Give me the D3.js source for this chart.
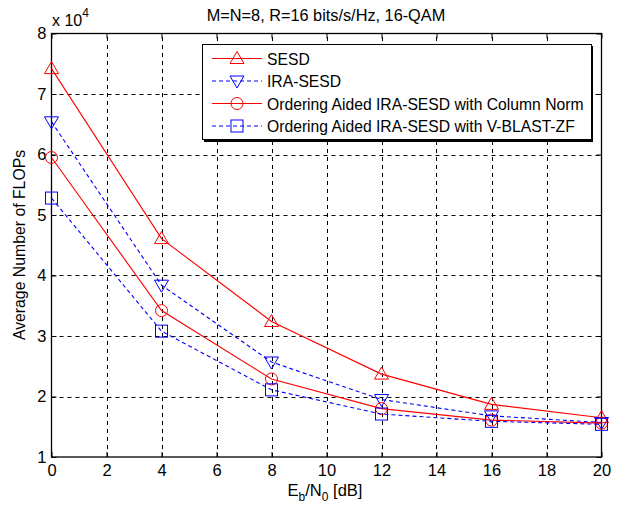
<!DOCTYPE html>
<html>
<head>
<meta charset="utf-8">
<script src="https://cdn.jsdelivr.net/npm/d3@7"></script>
<style>
  body { margin: 0; background: #fff; }
  text { font-family: "Liberation Sans", Arial, sans-serif; }
</style>
</head>
<body>
<div id="wrapper"></div>
<script>
// data (y values in units of 10^4 FLOPs)
const snr = [0, 4, 8, 12, 16, 20];
const sesd = [7.42, 4.61, 3.24, 2.37, 1.87, 1.65];
const iraSesd = [6.54, 3.84, 2.57, 1.95, 1.68, 1.57];
const colNorm = [5.95, 3.42, 2.29, 1.80, 1.61, 1.56];
const vblast = [5.28, 3.08, 2.11, 1.71, 1.59, 1.54];
const seriesNames = ["SESD", "IRA-SESD", "Ordering Aided IRA-SESD with Column Norm", "Ordering Aided IRA-SESD with V-BLAST-ZF"];
const xTicks = [0, 2, 4, 6, 8, 10, 12, 14, 16, 18, 20];
const yTicks = [1, 2, 3, 4, 5, 6, 7, 8];

const series = [
    { name: seriesNames[0], values: sesd, color: "#ff0000", dash: null, marker: "up" },
    { name: seriesNames[1], values: iraSesd, color: "#0000ff", dash: "4,3", marker: "down" },
    { name: seriesNames[2], values: colNorm, color: "#ff0000", dash: null, marker: "circle" },
    { name: seriesNames[3], values: vblast, color: "#0000ff", dash: "4,3", marker: "square" }
];

const dimension = {
    width: 617,
    height: 506,
    margin: { top: 33.5, left: 51.5, bottom: 49, right: 15.5 }
};
dimension.boundedWidth = dimension.width - dimension.margin.left - dimension.margin.right;
dimension.boundedHeight = dimension.height - dimension.margin.top - dimension.margin.bottom;

const svg = d3.select("#wrapper").append("svg")
    .attr("width", dimension.width)
    .attr("height", dimension.height);

const xScaler = d3.scaleLinear().domain([0, 20])
    .range([dimension.margin.left, dimension.margin.left + dimension.boundedWidth]);
const yScaler = d3.scaleLinear().domain([1, 8])
    .range([dimension.margin.top + dimension.boundedHeight, dimension.margin.top]);

const x0 = xScaler.range()[0], x1 = xScaler.range()[1];
const y0 = yScaler.range()[0], y1 = yScaler.range()[1];

// grid
const grid = svg.append("g").attr("stroke", "#000").attr("stroke-width", 1).attr("stroke-dasharray", "4,4");
grid.selectAll("line.gx").data(xTicks.slice(1, -1)).enter().append("line")
    .attr("x1", d => Math.round(xScaler(d)) + 0.5).attr("x2", d => Math.round(xScaler(d)) + 0.5)
    .attr("y1", y0).attr("y2", y1);
grid.selectAll("line.gy").data(yTicks.slice(1, -1)).enter().append("line")
    .attr("y1", d => Math.round(yScaler(d)) + 0.5).attr("y2", d => Math.round(yScaler(d)) + 0.5)
    .attr("x1", x0).attr("x2", x1);

// axes
const xAxis = d3.axisBottom(xScaler).tickValues(xTicks).tickSize(-5).tickPadding(7).tickFormat(d3.format("d"));
const yAxis = d3.axisLeft(yScaler).tickValues(yTicks).tickSize(-5).tickPadding(5).tickFormat(d3.format("d"));
svg.append("g").attr("transform", `translate(0,${y0})`).call(xAxis);
svg.append("g").attr("transform", `translate(${x0},0)`).call(yAxis);
svg.append("g").attr("transform", `translate(0,${y1})`)
    .call(d3.axisTop(xScaler).tickValues(xTicks).tickSize(-5).tickFormat(""));
svg.append("g").attr("transform", `translate(${x1},0)`)
    .call(d3.axisRight(yScaler).tickValues(yTicks).tickSize(-5).tickFormat(""));
svg.selectAll(".domain").remove();
svg.selectAll(".tick line").attr("stroke", "#000");
svg.selectAll(".tick text").style("font-size", "16.5px").attr("fill", "#000");

svg.append("rect")
    .attr("x", x0).attr("y", y1).attr("width", x1 - x0).attr("height", y0 - y1)
    .attr("fill", "none").attr("stroke", "#000").attr("stroke-width", 1.3);

// lines
const line = d3.line().x((d, i) => xScaler(snr[i])).y(d => yScaler(d));

function drawMarker(g, type, cx, cy, color) {
    if (type === "circle") {
        g.append("circle").attr("cx", cx).attr("cy", cy).attr("r", 6)
            .attr("fill", "none").attr("stroke", color).attr("stroke-width", 1);
    } else if (type === "square") {
        g.append("rect").attr("x", cx - 6).attr("y", cy - 6).attr("width", 12).attr("height", 12)
            .attr("fill", "none").attr("stroke", color).attr("stroke-width", 1);
    } else {
        const s = type === "up" ? 1 : -1;
        const pts = [[cx, cy - 7 * s], [cx - 7, cy + 5 * s], [cx + 7, cy + 5 * s]];
        g.append("path").attr("d", "M" + pts.join("L") + "Z")
            .attr("fill", "none").attr("stroke", color).attr("stroke-width", 1);
    }
}

series.forEach(s => {
    svg.append("path")
        .attr("d", line(s.values))
        .attr("fill", "none")
        .attr("stroke", s.color)
        .attr("stroke-width", 1.1)
        .attr("stroke-dasharray", s.dash);
    const g = svg.append("g");
    s.values.forEach((v, i) => drawMarker(g, s.marker, xScaler(snr[i]), yScaler(v), s.color));
});

// legend
const legend = svg.append("g");
legend.append("rect").attr("x", 204).attr("y", 46).attr("width", 389).attr("height", 96)
    .attr("fill", "#000");
legend.append("rect").attr("x", 202.5).attr("y", 44.5).attr("width", 389).attr("height", 95)
    .attr("fill", "#fff").attr("stroke", "#000").attr("stroke-width", 1);
series.forEach((s, i) => {
    const ly = 58.5 + i * 22.5;
    legend.append("line").attr("x1", 212).attr("x2", 262).attr("y1", ly).attr("y2", ly)
        .attr("stroke", s.color).attr("stroke-width", 1.1).attr("stroke-dasharray", s.dash);
    drawMarker(legend, s.marker, 237, ly, s.color);
    legend.append("text").attr("x", 267).attr("y", ly + 6)
        .style("font-size", "15.7px").text(s.name);
});

// title and labels
svg.append("text").attr("x", 326).attr("y", 21).attr("text-anchor", "middle")
    .style("font-size", "16.3px").text("M=N=8, R=16 bits/s/Hz, 16-QAM");

const mult = svg.append("text").attr("x", 52).attr("y", 26).style("font-size", "16px");
mult.append("tspan").text("x 10");
mult.append("tspan").attr("dy", -9).style("font-size", "12px").text("4");

svg.append("text")
    .attr("transform", "translate(25,245) rotate(-90)")
    .attr("text-anchor", "middle")
    .style("font-size", "15.8px")
    .text("Average Number of FLOPs");

const xl = svg.append("text").attr("x", 325).attr("y", 496).attr("text-anchor", "middle")
    .style("font-size", "16.5px");
xl.append("tspan").text("E");
xl.append("tspan").attr("dy", 5).style("font-size", "12px").text("b");
xl.append("tspan").attr("dy", -5).text("/N");
xl.append("tspan").attr("dy", 5).style("font-size", "12px").text("0");
xl.append("tspan").attr("dy", -5).text(" [dB]");
</script>
</body>
</html>
